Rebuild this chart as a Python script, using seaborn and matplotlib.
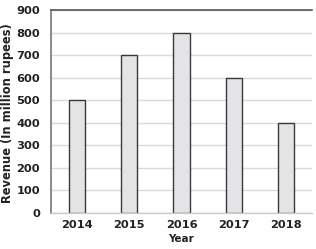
import matplotlib
matplotlib.use("Agg")
import matplotlib.pyplot as plt
import seaborn as sns
import pandas as pd

years = ["2014", "2015", "2016", "2017", "2018"]
revenue = [500, 700, 800, 600, 400]

sns.set_theme(style="white")
plt.rcParams['font.family'] = ['DejaVu Sans']

df = pd.DataFrame({"Year": years, "Revenue": revenue})

fig = plt.figure(figsize=(3.16, 2.49), dpi=100)
ax = fig.add_axes([51/316, 1 - 213/249, 261/316, 203/249])

sns.barplot(data=df, x="Year", y="Revenue", ax=ax, color="#e4e4e6",
            width=0.31, edgecolor="#3a3a3a", linewidth=1.0, saturation=1)

ax.set_ylim(0, 900)
ax.set_yticks(range(0, 901, 100))
ax.set_xlim(-0.5, 4.5)
ax.yaxis.grid(True, color="#dadada", linewidth=1.0)
ax.set_axisbelow(True)

ax.spines["right"].set_visible(False)
ax.spines["top"].set_color("#555555")
ax.spines["top"].set_linewidth(1.2)
ax.spines["left"].set_color("#777777")
ax.spines["left"].set_linewidth(1.2)
ax.spines["bottom"].set_color("#cccccc")
ax.spines["bottom"].set_linewidth(1.0)

ax.tick_params(axis="y", length=0, labelsize=8.2, colors="#222222", pad=8)
ax.tick_params(axis="x", length=0, labelsize=8.2, colors="#222222", pad=5)
for lab in ax.get_xticklabels() + ax.get_yticklabels():
    lab.set_fontweight("bold")

ax.set_xlabel("Year", fontsize=7.5, fontweight="bold", color="#222222", labelpad=3)
ax.set_ylabel("Revenue (In million rupees)", fontsize=8.3, fontweight="bold",
              color="#222222")
ax.yaxis.set_label_coords(-0.14, 0.49)

fig.savefig("out.png", dpi=100)
